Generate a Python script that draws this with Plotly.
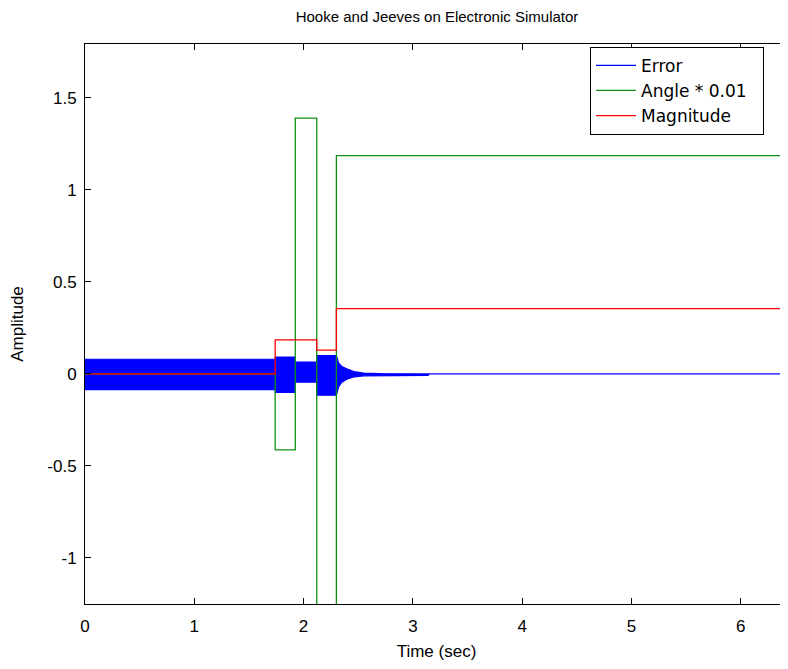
import plotly.graph_objects as go

# ---- data ----
# Error signal: envelope of a fast oscillation (upper / lower bounds at breakpoints)
err_t     = [0.0, 1.74, 1.741, 1.92, 1.921, 2.12, 2.121, 2.30, 2.32, 2.35, 2.40, 2.46, 2.55, 2.70, 3.14, 3.15, 6.5]
err_upper = [0.08, 0.08, 0.092, 0.092, 0.065, 0.065, 0.10, 0.10, 0.06, 0.04, 0.027, 0.013, 0.005, 0.002, 0.0, 0.0, 0.0]
err_lower = [-0.085, -0.085, -0.10, -0.10, -0.045, -0.045, -0.115, -0.115, -0.07, -0.045, -0.027, -0.016, -0.01, -0.008, -0.008, 0.0, 0.0]

# Angle * 0.01 (step signal)
ang_t = [0.0, 1.74, 1.74, 1.924, 1.924, 2.12, 2.12, 2.30, 2.30, 6.5]
ang_y = [0.0, 0.0, -0.413, -0.413, 1.39, 1.39, -1.6, -1.6, 1.186, 1.186]

# Magnitude (step signal)
mag_t = [0.0, 1.74, 1.74, 2.12, 2.12, 2.30, 2.30, 6.5]
mag_y = [0.0, 0.0, 0.185, 0.185, 0.13, 0.13, 0.355, 0.355]

y_ticks = [-1, -0.5, 0, 0.5, 1, 1.5]
y_tick_labels = ["-1", "-0.5", "0", "0.5", "1", "1.5"]
x_ticks = [0, 1, 2, 3, 4, 5, 6]
x_tick_labels = ["0", "1", "2", "3", "4", "5", "6"]

FONT = "Liberation Sans, Arial, sans-serif"
LEG_FONT = "DejaVu Sans, Verdana, sans-serif"
BLUE, GREEN, RED = "#0000FF", "#109010", "#FF0000"
PAD = "\u00a0" * 2

fig = go.Figure()

# Error as filled band (polygon: upper forward, lower reversed)
poly_x = err_t + err_t[::-1]
poly_y = err_upper + err_lower[::-1]
fig.add_trace(go.Scatter(
    x=poly_x, y=poly_y, mode="lines", fill="toself",
    fillcolor=BLUE, line=dict(color=BLUE, width=1.2),
    name="Error", legendgroup="err", showlegend=False, hoverinfo="skip"))
# legend entry for Error as a plain line
fig.add_trace(go.Scatter(
    x=[None], y=[None], mode="lines", name="Error", legendgroup="err",
    line=dict(color=BLUE, width=1.3)))

fig.add_trace(go.Scatter(
    x=ang_t, y=ang_y, mode="lines", name="Angle * 0.01" + PAD,
    line=dict(color=GREEN, width=1.3)))

fig.add_trace(go.Scatter(
    x=mag_t, y=mag_y, mode="lines", name="Magnitude",
    line=dict(color=RED, width=1.3)))

W, H = 780, 653
PW = W - 77
fig.update_layout(
    width=W, height=H,
    margin=dict(l=77, r=0, t=36, b=57, autoexpand=False),
    paper_bgcolor="white", plot_bgcolor="white",
    font=dict(family=FONT, color="black", size=17),
    title=dict(text="Hooke and Jeeves on Electronic Simulator",
               x=429 / W, xanchor="center", xref="container",
               y=1 - 9 / H, yanchor="middle", yref="container",
               font=dict(size=15, family=FONT, color="black")),
    showlegend=True,
    legend=dict(x=(590 - 85) / PW, y=0.995, xanchor="left", yanchor="top",
                bgcolor="white", bordercolor="black", borderwidth=1,
                font=dict(size=17, family=LEG_FONT, color="black"),
                tracegroupgap=0, itemwidth=40),
    xaxis=dict(range=[0, PW / 109.3], tickvals=x_ticks, ticktext=x_tick_labels,
               ticks="inside", ticklen=6, tickcolor="black",
               showline=True, linecolor="black", linewidth=1,
               mirror="ticks", showgrid=False, zeroline=False, automargin=False,
               ticklabelstandoff=7,
               title=dict(text="Time (sec)", font=dict(size=17), standoff=14)),
    yaxis=dict(range=[-1.25, 1.793], tickvals=y_ticks, ticktext=y_tick_labels,
               ticks="inside", ticklen=6, tickcolor="black",
               showline=True, linecolor="black", linewidth=1,
               showgrid=False, zeroline=False, automargin=False,
               ticklabelstandoff=4,
               title=dict(text="Amplitude", font=dict(size=17), standoff=20)),
)

fig.write_html("out.html")
